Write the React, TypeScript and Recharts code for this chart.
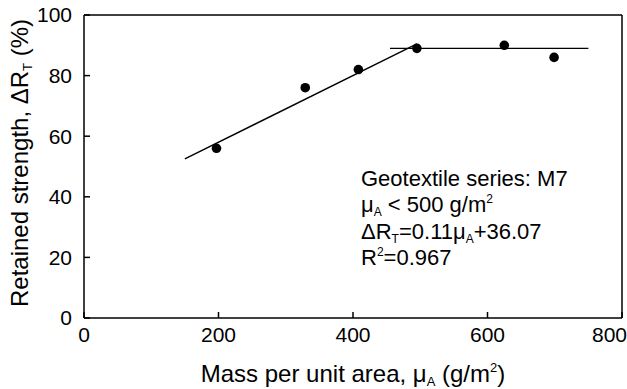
import React from 'react'
import { ScatterChart, Scatter, XAxis, YAxis, ReferenceLine, Label } from 'recharts'

const massPerArea = [197, 329, 408, 495, 625, 699]
const retainedStrength = [56, 76, 82, 89, 90, 86]

// fitted lines, end points
const risingFitX = [150, 495]
const risingFitY = [52.5, 90.5]
const plateauX = [455, 750]
const plateauY = [89, 89]

const xTicks = [0, 200, 400, 600, 800]
const yTicks = [0, 20, 40, 60, 80, 100]

const points = massPerArea.map((x, i) => ({ x, y: retainedStrength[i] }))
const risingFit = risingFitX.map((x, i) => ({ x, y: risingFitY[i] }))
const plateau = plateauX.map((x, i) => ({ x, y: plateauY[i] }))

const font = '"Liberation Sans", Arial, sans-serif'
const noShape = () => <g />

// the last label sits flush against the right edge, like in the original
const XTick = ({ x, y, payload }: any) => {
  const last = payload.value === xTicks[xTicks.length - 1]
  return (
    <text
      x={last ? 627 : x}
      y={y}
      dy={15}
      textAnchor={last ? 'end' : 'middle'}
      fontSize={21}
      fontFamily={font}
      fill="#000"
    >
      {payload.value}
    </text>
  )
}

export default function App() {
  return (
    <div style={{ position: 'absolute', left: 0, top: 0, width: 627, height: 389, fontFamily: font }}>
      <ScatterChart width={627} height={389} margin={{ top: 15, right: 5, bottom: 0, left: 0 }}>
        <XAxis
          type="number"
          dataKey="x"
          domain={[0, 800]}
          ticks={xTicks}
          height={71}
          tickSize={-6}
          tickMargin={15}
          axisLine={{ stroke: '#000', strokeWidth: 1.5 }}
          tickLine={{ stroke: '#000', strokeWidth: 1.5 }}
          tick={<XTick />}
        >
          <Label
            content={({ viewBox }: any) => {
              const cx = viewBox.x + viewBox.width / 2
              return (
                <text x={cx} y={382} textAnchor="middle" fontSize={24} fontFamily={font} fill="#000">
                  <tspan>Mass per unit area, μ</tspan>
                  <tspan fontSize={13} dy={4}>A</tspan>
                  <tspan dy={-4}> (g/m</tspan>
                  <tspan fontSize={13} dy={-10}>2</tspan>
                  <tspan dy={10}>)</tspan>
                </text>
              )
            }}
          />
        </XAxis>
        <YAxis
          type="number"
          dataKey="y"
          domain={[0, 100]}
          ticks={yTicks}
          width={84}
          tickSize={-6}
          tickMargin={18}
          axisLine={{ stroke: '#000', strokeWidth: 1.5 }}
          tickLine={{ stroke: '#000', strokeWidth: 1.5 }}
          tick={{ fill: '#000', fontSize: 21, fontFamily: font }}
        >
          <Label
            content={() => (
              <text
                x={28}
                y={163}
                textAnchor="middle"
                fontSize={24}
                fontFamily={font}
                fill="#000"
                transform="rotate(-90, 28, 163)"
              >
                <tspan>Retained strength, ΔR</tspan>
                <tspan fontSize={13} dy={4}>T</tspan>
                <tspan dy={-4}> (%)</tspan>
              </text>
            )}
          />
        </YAxis>
        <ReferenceLine y={100} stroke="#000" strokeWidth={1.5} />
        <ReferenceLine x={800} stroke="#000" strokeWidth={1.5} />
        <Scatter
          data={risingFit}
          line={{ stroke: '#000', strokeWidth: 1.4 }}
          shape={noShape}
          isAnimationActive={false}
        />
        <Scatter
          data={plateau}
          line={{ stroke: '#000', strokeWidth: 1.4 }}
          shape={noShape}
          isAnimationActive={false}
        />
        <Scatter
          data={points}
          fill="#000"
          shape={(p: any) => <circle cx={p.cx} cy={p.cy} r={4.8} fill="#000" />}
          isAnimationActive={false}
        />
      </ScatterChart>
      <svg
        width={627}
        height={389}
        style={{ position: 'absolute', left: 0, top: 0, pointerEvents: 'none' }}
      >
        <g fontFamily={font} fontSize={22} fill="#000">
          <text x={361} y={186}>Geotextile series: M7</text>
          <text x={361} y={212}>
            <tspan>μ</tspan>
            <tspan fontSize={12} dy={4}>A</tspan>
            <tspan dy={-4}> &lt; 500 g/m</tspan>
            <tspan fontSize={12} dy={-9}>2</tspan>
          </text>
          <text x={361} y={239}>
            <tspan>ΔR</tspan>
            <tspan fontSize={12} dy={4}>T</tspan>
            <tspan dy={-4}>=0.11μ</tspan>
            <tspan fontSize={12} dy={4}>A</tspan>
            <tspan dy={-4}>+36.07</tspan>
          </text>
          <text x={361} y={265}>
            <tspan>R</tspan>
            <tspan fontSize={12} dy={-9}>2</tspan>
            <tspan dy={9}>=0.967</tspan>
          </text>
        </g>
      </svg>
    </div>
  )
}
